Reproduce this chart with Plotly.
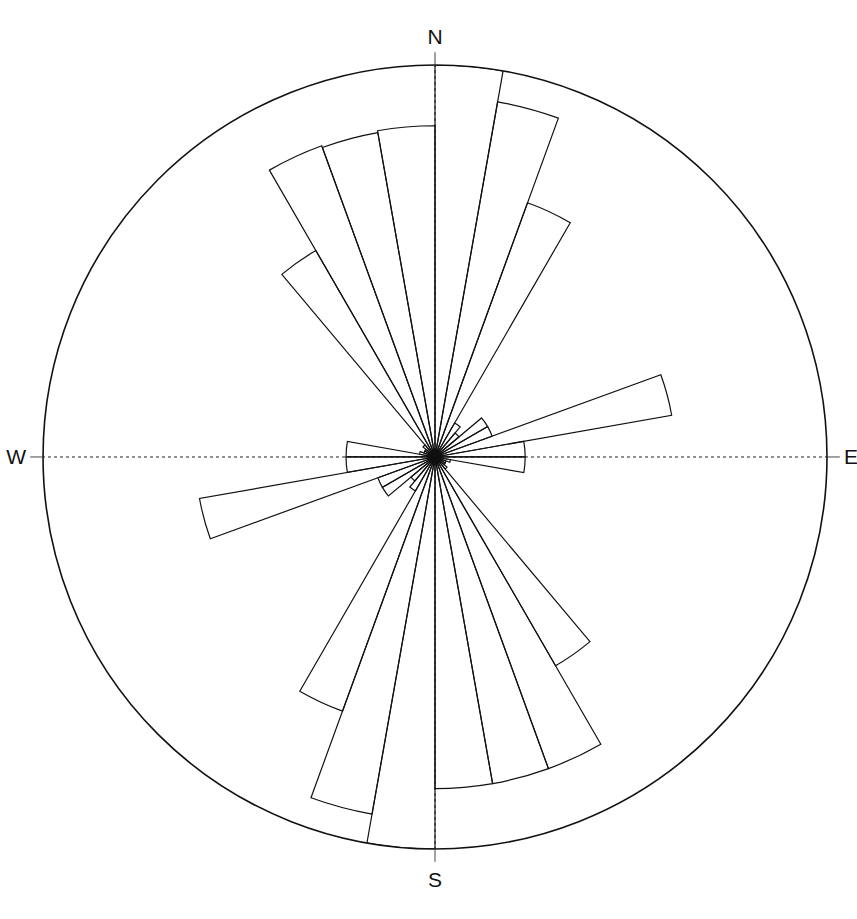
import plotly.graph_objects as go

# Rose diagram of strike directions, 10-degree classes (class start, degrees clockwise from N)
class_start = [0, 10, 20, 30, 40, 50, 60, 70, 80, 90, 100, 110, 120, 130, 140, 150, 160, 170,
               180, 190, 200, 210, 220, 230, 240, 250, 260, 270, 280, 290, 300, 310, 320, 330, 340, 350]

# Relative frequency of each class (outer circle = 1.0)
frequency = [1.00, 0.92, 0.69, 0.10, 0.08, 0.155, 0.155, 0.613, 0.23, 0.23, 0.04, 0.03, 0.03, 0.04,
             0.615, 0.846, 0.846, 0.846,
             1.00, 0.925, 0.69, 0.10, 0.08, 0.155, 0.155, 0.61, 0.227, 0.227, 0.04, 0.03, 0.03, 0.04,
             0.608, 0.845, 0.84, 0.845]

class_width = 10

compass_angles = [0, 90, 180, 270]
compass_labels = ["N", "E", "S", "W"]

theta_mid = [s + class_width / 2 for s in class_start]

fig = go.Figure()
fig.add_trace(go.Barpolar(
    r=frequency,
    theta=theta_mid,
    width=[class_width] * len(class_start),
    marker=dict(color="rgba(255,255,255,0)", line=dict(color="#111111", width=1.2)),
    hoverinfo="skip",
))

fig.update_layout(
    width=857,
    height=919,
    margin=dict(l=0, r=0, t=0, b=0),
    paper_bgcolor="white",
    plot_bgcolor="white",
    showlegend=False,
    polar=dict(
        domain=dict(x=[0.0502, 0.9650], y=[0.0762, 0.9293]),
        bgcolor="white",
        bargap=0,
        radialaxis=dict(visible=False, range=[0, 1.0]),
        angularaxis=dict(
            rotation=90,
            direction="clockwise",
            tickmode="array",
            tickvals=compass_angles,
            ticktext=compass_labels,
            tickfont=dict(family="Liberation Sans, Arial, sans-serif", size=21, color="#111111"),
            ticks="outside",
            ticklen=12,
            tickcolor="#444444",
            tickwidth=1,
            showgrid=True,
            gridcolor="#222222",
            gridwidth=1.2,
            griddash="dot",
            showline=True,
            linecolor="#111111",
            linewidth=1.6,
            layer="above traces",
        ),
    ),
)

fig.write_html("out.html")
